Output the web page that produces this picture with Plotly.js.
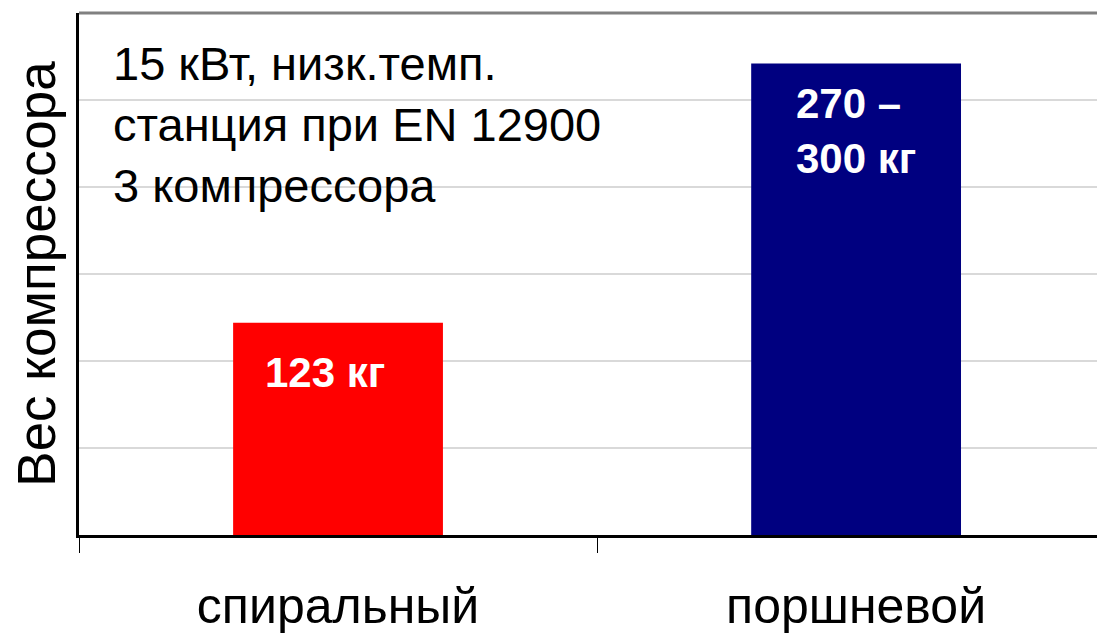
<!DOCTYPE html>
<html>
<head>
<meta charset="utf-8">
<script src="https://cdn.plot.ly/plotly-3.0.1.min.js"></script>
<style>html,body{margin:0;padding:0;background:#fff;}#chart{width:1097px;height:638px;}</style>
</head>
<body>
<div id="chart"></div>
<script>
const categories = ["спиральный", "поршневой"];
const weights = [122, 271];
const barColors = ["#ff0000", "#000080"];
const barLabels = ["123 кг", "270 –<br>300 кг"];
const yTitle = "Вес компрессора";
const noteText = "15 кВт, низк.темп.<br>станция при EN 12900<br>3 компрессора";

const FONT = "Liberation Sans, Arial, sans-serif";

const trace = {
  type: "bar",
  x: categories,
  y: weights,
  marker: { color: barColors, line: { width: 0 } },
  width: 0.405,
  hoverinfo: "skip"
};

const labelShift = [{ x: -13, y: -24 }, { x: 0, y: -15 }];
const annotations = categories.map((c, i) => ({
  x: c, y: weights[i], xref: "x", yref: "y",
  text: barLabels[i], showarrow: false,
  xanchor: "center", yanchor: "top",
  xshift: labelShift[i].x, yshift: labelShift[i].y,
  align: "left",
  font: { family: FONT, size: 42, color: "#ffffff", weight: "bold" }
}));
annotations.push({
  xref: "paper", yref: "paper", x: 0.031, y: 0.957,
  xanchor: "left", yanchor: "top", align: "left", showarrow: false,
  text: noteText,
  font: { family: FONT, size: 47, color: "#000000" }
});

const layout = {
  width: 1097, height: 638,
  margin: { l: 79, r: 0, t: 13, b: 103, pad: 0 },
  paper_bgcolor: "#ffffff", plot_bgcolor: "#ffffff",
  showlegend: false,
  font: { family: FONT, color: "#000000" },
  xaxis: {
    type: "category",
    range: [-0.5, 1.465],
    showgrid: false, zeroline: false,
    showline: true, linecolor: "#000000", linewidth: 3,
    ticks: "outside", tickson: "boundaries", ticklen: 15, tickwidth: 1, tickcolor: "#000000",
    tickfont: { family: FONT, size: 50, color: "#000000" },
    ticklabelstandoff: 25
  },
  yaxis: {
    range: [0, 300], dtick: 50, tick0: 0,
    showgrid: true, gridcolor: "#d9d9d9", gridwidth: 2,
    zeroline: false, showticklabels: false, ticks: "",
    showline: true, linecolor: "#000000", linewidth: 3,
    title: { text: yTitle, font: { family: FONT, size: 53, color: "#000000" }, standoff: 4 }
  },
  shapes: [{
    type: "line", xref: "paper", yref: "paper", x0: 0, x1: 1, y0: 1, y1: 1,
    line: { color: "#808080", width: 3 }
  }],
  annotations: annotations
};

Plotly.newPlot("chart", [trace], layout, { staticPlot: true, displayModeBar: false });
</script>
</body>
</html>
